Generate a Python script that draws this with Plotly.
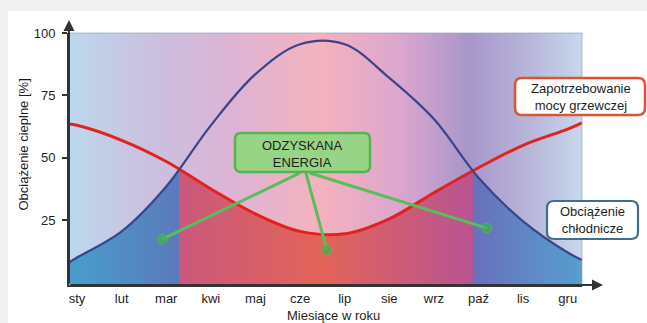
import numpy as np
import plotly.graph_objects as go

# Months (Polish abbreviations) shown along the x axis
MONTHS = ["sty", "lut", "mar", "kwi", "maj", "cze", "lip", "sie", "wrz", "paź", "lis", "gru"]
MONTH_POS = list(range(12))
Y_TICKS = [25, 50, 75, 100]

# Positions (in months, 0 = January) at which the curves are sampled
SAMPLE_X = [-0.18, 0, 1, 2, 3, 4, 5, 6, 7, 8, 9, 10, 11, 11.32]
# Heating power demand [%]
HEATING = [63.5, 63, 57, 48.5, 37.5, 27.5, 20.5, 19.5, 25.5, 36, 46, 55, 61.5, 64]
# Cooling load [%]
COOLING = [8, 10, 20.5, 38.5, 63, 83.5, 95.5, 95.5, 82, 65.5, 42, 24.5, 12, 9]

# "Recovered energy" pointers: (start month, start %, end month, end %)
POINTERS = [
    (5.00, 43.9, 1.91, 17.4),
    (5.13, 43.9, 5.60, 13.0),
    (5.22, 43.9, 9.19, 21.8),
]

X_RANGE = [-0.18, 11.32]
Y_RANGE = [-1, 100]

FONT = "Liberation Sans, Arial, sans-serif"
FS = 13
TXT = "#1e1e1e"
AXIS = "#333333"

# plot area in pixels
W, H = 647, 323
ML, MR, MT, MB = 69, 65, 33, 38
PW, PH = W - ML - MR, H - MT - MB


def px(xp):
    return (xp - ML) / PW


def py(yp):
    return (H - MB - yp) / PH


def rounded_path(x0, y0, x1, y1, r):
    pts = [
        ("M", [(x0 + r, y0)]), ("L", [(x1 - r, y0)]), ("Q", [(x1, y0), (x1, y0 + r)]),
        ("L", [(x1, y1 - r)]), ("Q", [(x1, y1), (x1 - r, y1)]),
        ("L", [(x0 + r, y1)]), ("Q", [(x0, y1), (x0, y1 - r)]),
        ("L", [(x0, y0 + r)]), ("Q", [(x0, y0), (x0 + r, y0)]),
    ]
    out = []
    for cmd, ps in pts:
        out.append(cmd + " " + " ".join(f"{px(a):.5f},{py(b):.5f}" for a, b in ps))
    return " ".join(out) + " Z"


def label(xp, yp, text, **kw):
    return dict(xref="paper", yref="paper", x=px(xp), y=py(yp), text=text, showarrow=False,
                xanchor="center", yanchor="middle",
                font=dict(family=FONT, size=FS, color=TXT), **kw)


x = np.array(SAMPLE_X, dtype=float)
h = np.array(HEATING, dtype=float)
c = np.array(COOLING, dtype=float)

# where the two curves cross (linear between samples)
d = c - h
cross = []
for i in range(len(x) - 1):
    if d[i] * d[i + 1] < 0:
        cross.append(x[i] + (x[i + 1] - x[i]) * d[i] / (d[i] - d[i + 1]))
span = X_RANGE[1] - X_RANGE[0]
f1, f2 = [(v - X_RANGE[0]) / span for v in cross[:2]]

under_scale = [
    [0.0, "rgb(70,158,204)"], [f1, "rgb(92,122,186)"],
    [f1, "rgb(202,88,124)"], [0.49, "rgb(226,100,88)"],
    [f2, "rgb(184,84,146)"], [f2, "rgb(104,112,188)"],
    [1.0, "rgb(86,158,206)"],
]
sky_scale = [
    [0.0, "rgb(188,216,236)"], [0.16, "rgb(202,192,224)"], [0.31, "rgb(220,180,214)"],
    [0.49, "rgb(245,178,190)"], [0.645, "rgb(220,166,206)"], [0.78, "rgb(168,150,202)"],
    [0.9, "rgb(184,182,218)"], [1.0, "rgb(198,216,236)"],
]


def grad(scale):
    return dict(type="horizontal", colorscale=scale, start=X_RANGE[0], stop=X_RANGE[1])


fig = go.Figure()

# coloured band under both curves
fig.add_trace(go.Scatter(
    x=[X_RANGE[0], X_RANGE[1], X_RANGE[1], X_RANGE[0]],
    y=[Y_RANGE[0], Y_RANGE[0], Y_RANGE[1], Y_RANGE[1]],
    fill="toself", mode="none", fillgradient=grad(under_scale), hoverinfo="skip"))

# sky gradient above each curve
for series in (h, c):
    fig.add_trace(go.Scatter(x=X_RANGE, y=[Y_RANGE[1]] * 2, mode="lines",
                             line=dict(width=0), hoverinfo="skip"))
    fig.add_trace(go.Scatter(x=x, y=series, mode="lines",
                             line=dict(width=0, shape="spline"),
                             fill="tonexty", fillgradient=grad(sky_scale), hoverinfo="skip"))

# the curves themselves
fig.add_trace(go.Scatter(x=x, y=h, mode="lines", hoverinfo="skip",
                         line=dict(color="rgb(226,34,30)", width=3, shape="spline")))
fig.add_trace(go.Scatter(x=x, y=c, mode="lines", hoverinfo="skip",
                         line=dict(color="rgb(58,68,138)", width=2.2, shape="spline")))

# recovered-energy pointers
for x0, y0, x1, y1 in POINTERS:
    fig.add_trace(go.Scatter(x=[x0, x1], y=[y0, y1], mode="lines+markers", hoverinfo="skip",
                             line=dict(color="rgb(88,190,92)", width=3),
                             marker=dict(size=[0, 10], color="rgb(60,180,70)")))

shapes = [
    # white card behind the chart
    dict(type="rect", xref="paper", yref="paper", x0=px(8), x1=px(W + 2), y0=py(11), y1=py(H + 2),
         fillcolor="white", line=dict(width=0), layer="below"),
    # thin outline of the plot area
    dict(type="rect", xref="paper", yref="paper", x0=0, x1=1, y0=0, y1=1,
         line=dict(color="rgba(150,165,185,0.7)", width=1), layer="above"),
    # label boxes
    dict(type="path", xref="paper", yref="paper", path=rounded_path(235, 133, 370, 172, 6),
         fillcolor="rgb(152,212,134)", line=dict(color="rgb(84,180,84)", width=2.5), layer="above"),
    dict(type="path", xref="paper", yref="paper", path=rounded_path(515, 78, 645, 115, 7),
         fillcolor="white", line=dict(color="rgb(222,84,50)", width=2.5), layer="above"),
    dict(type="path", xref="paper", yref="paper", path=rounded_path(547, 201, 638, 239, 7),
         fillcolor="white", line=dict(color="rgb(64,110,140)", width=2.2), layer="above"),
]

annotations = [
    # axis arrows
    dict(xref="paper", yref="paper", x=0, y=py(20), ax=0, ay=265, axref="pixel", ayref="pixel",
         text="", showarrow=True, arrowhead=2, arrowsize=1.1, arrowwidth=2, arrowcolor=AXIS),
    dict(xref="paper", yref="paper", x=px(603), y=0, ax=-(603 - ML), ay=0, axref="pixel", ayref="pixel",
         text="", showarrow=True, arrowhead=2, arrowsize=1.1, arrowwidth=2, arrowcolor=AXIS),
    # box texts
    label(302.5, 154, "ODZYSKANA<br>ENERGIA"),
    label(581, 97, "Zapotrzebowanie<br>mocy grzewczej"),
    label(592.5, 220, "Obciążenie<br>chłodnicze"),
    # axis titles
    label(333, 315, "Miesiące w roku"),
    label(22.5, 145, "Obciążenie cieplne [%]", textangle=-90),
]

fig.update_layout(
    width=W, height=H, autosize=False,
    margin=dict(l=ML, r=MR, t=MT, b=MB),
    paper_bgcolor="rgb(238,240,242)", plot_bgcolor="rgba(0,0,0,0)",
    showlegend=False, shapes=shapes, annotations=annotations,
    font=dict(family=FONT, size=FS, color=TXT),
)
fig.update_xaxes(range=X_RANGE, tickvals=MONTH_POS, ticktext=MONTHS, ticks="",
                 showgrid=False, zeroline=False, showline=True, linecolor=AXIS, linewidth=2,
                 tickfont=dict(family=FONT, size=FS, color=TXT), fixedrange=True)
fig.update_yaxes(range=Y_RANGE, tickvals=Y_TICKS, ticks="outside", ticklen=5, tickwidth=1.5,
                 tickcolor=AXIS, showgrid=False, zeroline=False, showline=True, linecolor=AXIS,
                 linewidth=2, ticklabelstandoff=4,
                 tickfont=dict(family=FONT, size=FS, color=TXT), fixedrange=True)

fig.write_html("out.html")
